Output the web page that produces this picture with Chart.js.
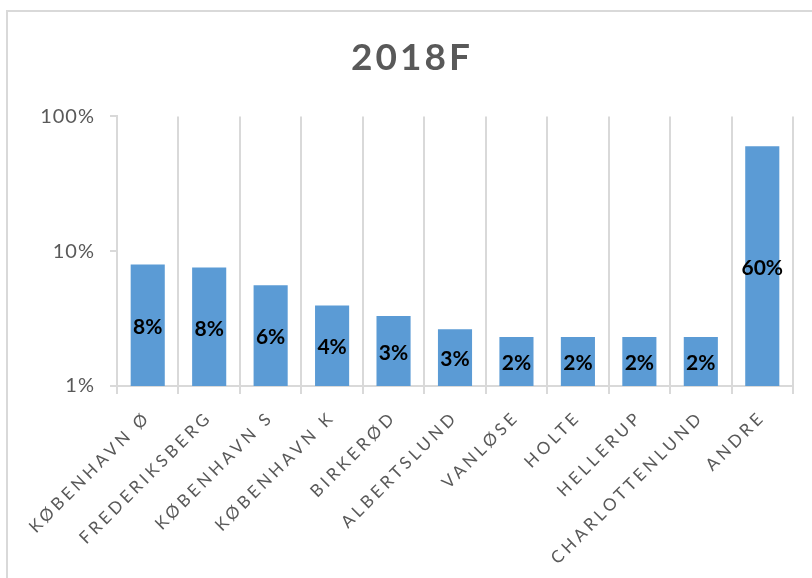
<!DOCTYPE html>
<html>
<head>
<meta charset="utf-8">
<script src="https://cdn.jsdelivr.net/npm/chart.js@4/dist/chart.umd.min.js"></script>
<style>
  html, body { margin: 0; padding: 0; background: #fff; }
  #wrap { width: 812px; height: 578px; position: relative; }
</style>
</head>
<body>
<div id="wrap"><canvas id="chart"></canvas></div>
<script>
// 2018F - andel pr. område (log-skala)
var areas = ['KØBENHAVN Ø', 'FREDERIKSBERG', 'KØBENHAVN S', 'KØBENHAVN K', 'BIRKERØD',
             'ALBERTSLUND', 'VANLØSE', 'HOLTE', 'HELLERUP', 'CHARLOTTENLUND', 'ANDRE'];
var shares = [7.97, 7.57, 5.6, 3.96, 3.3, 2.64, 2.31, 2.31, 2.31, 2.31, 60];
var yTicks = [1, 10, 100];

var GRID = '#d9d9d9';
var TEXT = '#595959';

// letter spacing is not a Chart.js font option, so wrap the draw calls
function withSpacing(obj, fn, spacing) {
    var orig = obj[fn];
    obj[fn] = function() {
        var c = this.ctx;
        c.save();
        c.letterSpacing = spacing;
        orig.apply(this, arguments);
        c.restore();
    };
}

var spacingPlugin = {
    id: 'spacing',
    beforeDraw: function(chart) {
        if (chart._spaced) return;
        withSpacing(chart.scales.x, 'drawLabels', '3.6px');
        withSpacing(chart.scales.y, 'drawLabels', '1px');
        if (chart.titleBlock) withSpacing(chart.titleBlock, 'draw', '3px');
        chart._spaced = true;
    }
};

var framePlugin = {
    id: 'frame',
    beforeDraw: function(chart) {
        var c = chart.ctx;
        c.save();
        c.strokeStyle = GRID;
        c.lineWidth = 2;
        c.beginPath();
        c.moveTo(7, 578);
        c.lineTo(7, 11);
        c.lineTo(812, 11);
        c.stroke();
        c.restore();
    }
};

var barLabels = {
    id: 'barLabels',
    afterDatasetsDraw: function(chart) {
        var c = chart.ctx;
        var meta = chart.getDatasetMeta(0);
        c.save();
        c.font = 'bold 21px Lato';
        c.fillStyle = '#000';
        c.textAlign = 'center';
        c.textBaseline = 'middle';
        meta.data.forEach(function(bar, i) {
            c.fillText(Math.round(shares[i]) + '%', bar.x, (bar.y + bar.base) / 2 + 2);
        });
        c.restore();
    }
};

new Chart(document.getElementById('chart'), {
    type: 'bar',
    data: {
        labels: areas,
        datasets: [{
            data: shares,
            backgroundColor: '#5b9bd5',
            borderWidth: 0,
            barPercentage: 0.555,
            categoryPercentage: 1
        }]
    },
    options: {
        responsive: true,
        maintainAspectRatio: false,
        animation: false,
        layout: { padding: { left: 31, right: 19, top: 0, bottom: 0 } },
        plugins: {
            legend: { display: false },
            tooltip: { enabled: false },
            title: {
                display: true,
                text: '2018F',
                color: TEXT,
                font: { family: 'Lato', size: 37, weight: 'bold', lineHeight: 1.2 },
                padding: { top: 36, bottom: 36 }
            }
        },
        scales: {
            x: {
                grid: { color: GRID, lineWidth: 2, tickLength: 8, offset: true },
                border: { color: GRID, width: 2 },
                ticks: {
                    color: TEXT,
                    font: { family: 'Lato', size: 17 },
                    minRotation: 45,
                    maxRotation: 45,
                    autoSkip: false,
                    padding: 13
                },
                afterFit: function(s) { s.height = 192; }
            },
            y: {
                type: 'logarithmic',
                min: 1,
                max: 100,
                grid: {
                    drawOnChartArea: false,
                    tickLength: 7,
                    lineWidth: 2,
                    color: function(ctx) {
                        return ctx.tick && yTicks.indexOf(ctx.tick.value) >= 0 ? GRID : 'rgba(0,0,0,0)';
                    }
                },
                border: { color: GRID, width: 2 },
                ticks: {
                    color: TEXT,
                    font: { family: 'Lato', size: 20 },
                    padding: 15,
                    autoSkip: false,
                    callback: function(v) {
                        return yTicks.indexOf(v) >= 0 ? v + '%' : '';
                    }
                },
                afterFit: function(s) { s.width = 86; }
            }
        }
    },
    plugins: [spacingPlugin, framePlugin, barLabels]
});
</script>
</body>
</html>
